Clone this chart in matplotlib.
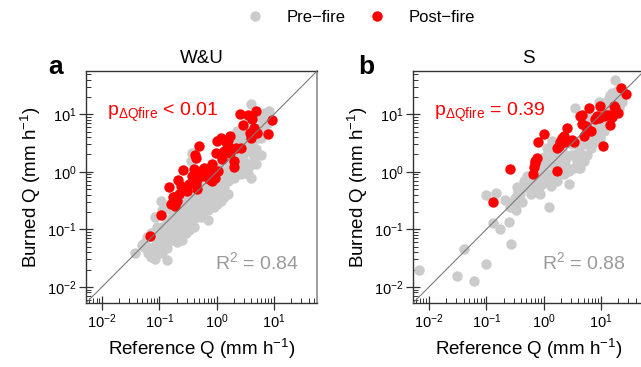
"""Pre- vs post-fire runoff: burned vs reference catchment Q, two panels."""
import numpy as np
import matplotlib
matplotlib.use("Agg")
import matplotlib.pyplot as plt
from matplotlib.lines import Line2D

plt.rcParams["font.family"] = ["Liberation Sans", "DejaVu Sans"]
plt.rcParams["mathtext.fontset"] = "custom"
plt.rcParams["mathtext.rm"] = "Liberation Sans"
plt.rcParams["mathtext.it"] = "Liberation Sans:italic"
plt.rcParams["mathtext.bf"] = "Liberation Sans:bold"

# values, stored as log10(Q, mm h-1)
# panel a (W&U) -- pre-fire
a_pre_ref = [
    -1.43, -1.31, -1.26, -1.20, -1.15, -1.09, -1.04, -0.98, -0.95, -0.92, -0.87, -0.86,
    -0.83, -0.80, -0.77, -0.75, -0.72, -0.69, -0.66, -0.63, -0.60, -0.57, -0.54, -0.51,
    -0.48, -0.45, -0.43, -0.40, -0.37, -0.34, -0.31, -0.28, -0.25, -0.22, -0.19, -0.16,
    -0.13, -0.10, -0.08, -0.05, -0.02, 0.01, 0.04, 0.07, 0.10, 0.13, 0.16, 0.19, 0.22,
    0.24, 0.27, 0.30, 0.33, 0.36, 0.39, 0.42, 0.45, 0.48, 0.51, 0.54, 0.56, 0.59, 0.62,
    0.65, 0.68, 0.71, 0.74, 0.77, 0.80, 0.83, 0.89, 0.91, 0.59, -0.43, -0.45, -0.98,
    -0.92, -0.95, -1.07, -1.15, -1.21, -1.27, -0.80, -0.75, -1.04, -1.09, -0.86, -0.63,
    -0.57, -0.51, -0.34, -0.28, -0.16, -0.05, 0.01, 0.07, 0.13, 0.19, -0.10, -0.05,
    0.36, 0.42, 0.48, 0.54, 0.45, 0.30, 0.19, 0.24, 0.62, 0.68, 0.77, 0.36, 0.30, 0.24,
    0.51, 0.56, 0.71, 0.77, 0.83, 0.89, -0.22, -0.16, -0.34, -0.43, -0.72, -0.66, -0.60,
    -0.54, -0.48, -0.69, -0.80, -0.89, -0.77, -0.60, -0.54, -0.72, -0.86, -0.92, -1.01,
    -1.09, -1.01, -0.16, 0.04, 0.22, 0.13, -0.05, 0.01, 0.07, -0.22, -0.25, -0.40, -0.45,
    -0.63, -0.69, -0.75, -0.28, -0.34, -0.51, -0.43, -1.21, -1.07, -0.95,
]
a_pre_burn = [
    -1.41, -1.28, -1.24, -1.42, -1.48, -1.30, -1.22, -1.07, -0.96, -1.19, -1.53, -1.33,
    -1.02, -0.90, -0.79, -1.13, -0.73, -0.96, -0.84, -0.70, -1.05, -0.79, -0.61, -0.96,
    -0.67, -0.56, -0.84, -0.50, -0.73, -0.61, -0.44, -0.59, -0.39, -0.50, -0.27, -0.84,
    -0.36, -0.16, -0.44, -0.27, -0.36, -0.07, -0.21, -0.10, -0.39, -0.44, 0.02, -0.16, 0.13,
    -0.04, 0.25, 0.07, 0.19, 0.36, 0.48, 0.59, 0.30, 0.19, 0.53, 0.07, 0.36, -0.10, 0.48,
    0.25, 0.39, 0.59, 0.76, 0.59, 0.82, 0.71, 0.68, 1.05, 1.17, 0.33, 0.19, -0.50,
    -0.61, -0.67, -0.79, -1.07, -1.13, -1.30, -0.67, -0.61, -0.96, -1.13, -0.84, -0.50,
    -0.39, -0.50, -0.79, -0.79, -0.67, -0.61, -0.56, -0.50, -0.27, -0.39, -0.56, -0.21,
    0.02, -0.04, 0.02, -0.04, 0.07, -0.10, 0.19, 0.13, 0.13, 0.13, 0.30, 0.71, 0.59, 0.48,
    0.71, 0.91, 0.97, 0.94, 1.02, 0.85, -0.33, -0.44, -0.39, -0.39, -0.90, -1.07, -1.19,
    -1.07, -1.02, -1.22, -1.19, -1.07, -0.96, -0.79, -0.84, -1.05, -1.13, -1.02, -1.13,
    -1.42, -1.30, -0.04, 0.07, -0.04, -0.10, -0.44, -0.27, -0.33, -0.61, -0.73, -0.96, -0.73,
    -0.96, -0.79, -0.73, -0.27, -0.21, -0.73, -0.61, -1.30, -1.51, -1.42,
]
# panel a (W&U) -- post-fire
a_post_ref = [
    -1.17, -0.97, -0.84, -0.77, -0.80, -0.75, -0.69, -0.72, -0.66, -0.68, -0.58, -0.51,
    -0.48, -0.43, -0.40, -0.37, -0.34, -0.33, -0.38, -0.36, -0.31, -0.28, -0.22, -0.16,
    -0.13, -0.08, -0.02, 0.01, 0.02, 0.07, 0.10, 0.13, 0.16, 0.19, 0.23, 0.24, 0.30,
    0.31, 0.33, 0.42, 0.40, 0.45, 0.55, 0.62, 0.68, 0.65, 0.58, 0.59, 0.71, 0.90, 0.97,
    -0.08, -0.03, -0.63, -0.13, -0.22, 0.19,
]
a_post_burn = [
    -1.12, -0.75, -0.26, -0.43, -0.56, -0.44, -0.50, -0.59, -0.39, -0.14, 0.03, -0.33,
    -0.21, -0.07, 0.05, -0.21, -0.30, -0.10, 0.30, 0.24, 0.45, 0.02, 0.07, -0.07,
    -0.13, 0.13, 0.33, 0.53, 0.02, 0.59, 0.22, 0.36, 0.51, 0.56, 0.62, 0.33, 0.19,
    0.09, 0.42, 0.42, 1.01, 0.82, 0.98, 0.91, 1.06, 0.76, 0.68, 0.59, 0.68, 0.65, 0.90,
    -0.16, -0.10, -0.24, 0.02, -0.07, 0.45,
]

# panel b (S) -- pre-fire
b_pre_ref = [
    -2.18, -1.51, -1.22, -1.39, -1.00, -0.57, -1.01, -0.84, -0.89, -0.77, -0.61, -0.67,
    -0.50, -0.48, -0.47, -0.38, -0.35, -0.29, -0.23, -0.20, -0.17, -0.15, -0.09, -0.06,
    -0.12, -0.03, 0.00, 0.06, 0.09, 0.12, 0.15, 0.17, 0.20, 0.23, 0.26, 0.29, 0.32, 0.35,
    0.38, 0.41, 0.44, 0.47, 0.50, 0.52, 0.55, 0.58, 0.61, 0.64, 0.67, 0.70, 0.73, 0.76,
    0.79, 0.82, 0.84, 0.87, 0.90, 0.93, 0.96, 0.99, 1.02, 1.05, 1.08, 1.11, 1.14, 1.16,
    1.19, 1.25, 1.28, 1.05, 1.11, 0.99, 0.93, 0.82, 0.70, 0.58, 0.47, 0.35, 0.23, 0.17,
    0.15, 0.06, 0.00, -0.05, -0.12, -0.17, -0.24, -0.29, -0.32, -0.41, -0.44, -0.52,
    -0.58, 0.12, 0.03, -0.03, 0.44, 0.52, 0.61, 0.76, 0.84, 0.90, 1.16, 1.22, 1.31, 1.37,
    1.40, 1.31, 1.05, 0.96, 0.76, 0.70,
]
b_pre_burn = [
    -1.70, -1.81, -1.89, -1.34, -1.60, -1.26, -0.41, -0.37, -0.89, -0.99, -0.87, -0.49,
    -0.45, -0.66, -0.27, -0.53, -0.16, -0.07, -0.39, -0.30, -0.21, -0.16, -0.27, -0.39,
    -0.36, -0.04, 0.07, 0.19, -0.61, -0.04, -0.16, 0.13, 0.25, -0.16, 0.19, 0.07, 0.36, -0.04,
    0.19, 0.07, -0.21, 0.30, 0.48, 0.30, 1.11, 0.19, 0.36, 0.07, 0.30, 0.48, 0.71, 0.59,
    0.76, 0.59, 0.88, 0.65, 0.79, 0.76, 0.74, 0.88, 1.05, 1.17, 1.22, 1.11, 1.28, 1.34,
    1.37, 1.60, 1.40, 0.71, 0.79, 0.59, 0.53, 0.42, 0.19, 0.48, 0.53, 0.30, 0.36, 0.30,
    0.53, 0.42, 0.25, 0.13, 0.02, -0.04, -0.18, -0.16, -0.27, -0.39, -0.36, -0.53,
    -0.61, -0.24, -0.13, -0.21, 0.02, 0.07, 0.07, 0.30, 0.48, 0.94, 1.17, 1.22, 1.28, 1.22,
    1.37, 1.11, 1.08, 1.22, 0.99, 0.94,
]
# panel b (S) -- post-fire
b_post_ref = [
    -0.89, -0.58, -0.19, -0.17, -0.16, -0.15, -0.12, -0.10, 0.01, 0.23, 0.23, 0.26, 0.29,
    0.32, 0.35, 0.38, 0.41, 0.50, 0.52, 0.66, 0.67, 0.70, 0.73, 0.76, 0.79, 0.90, 0.93,
    0.96, 0.99, 1.03, 1.05, 1.08, 1.14, 1.16, 1.19, 1.22, 1.25, 1.29, 1.35, 1.43, 0.64, 0.82,
]
b_post_burn = [
    -0.53, 0.05, -0.04, 0.09, 0.19, 0.16, 0.24, 0.51, 0.65, 0.02, 0.41, 0.45, 0.51,
    0.59, 0.62, 0.52, 0.76, 0.56, 0.52, 0.83, 0.99, 0.62, 0.79, 0.72, 1.11, 0.91, 0.97,
    0.94, 1.15, 0.45, 0.97, 0.99, 0.99, 0.82, 0.95, 1.14, 1.11, 1.02, 1.45, 1.35, 0.97, 0.71,
]

panels = [
    ("a", "W&U", a_pre_ref, a_pre_burn, a_post_ref, a_post_burn, "< 0.01", "0.84"),
    ("b", "S", b_pre_ref, b_pre_burn, b_post_ref, b_post_burn, "= 0.39", "0.88"),
]

GREY = "#cbcbcb"
RED = "#ff0000"
LIMS = (10 ** -2.28, 10 ** 1.75)


def draw_panel(ax, title, pre_x, pre_y, post_x, post_y, p_text, r2):
    ax.scatter(10 ** np.array(pre_x), 10 ** np.array(pre_y), s=56, color=GREY, linewidths=0, zorder=2)
    ax.scatter(10 ** np.array(post_x), 10 ** np.array(post_y), s=56, color=RED, linewidths=0, zorder=3)
    ax.plot(LIMS, LIMS, color="#7a7a7a", linewidth=0.8, zorder=4)
    ax.set_xscale("log")
    ax.set_yscale("log")
    ax.set_xlim(LIMS)
    ax.set_ylim(LIMS)
    ax.set_xticks([1e-2, 1e-1, 1, 10])
    ax.set_yticks([1e-2, 1e-1, 1, 10])
    ax.tick_params(which="major", direction="inout", length=10, width=0.9, color="#333333",
                   labelsize=10.5, pad=2)
    ax.tick_params(which="minor", direction="in", length=3.5, width=0.7, color="#333333")
    for side in ("left", "bottom", "top"):
        ax.spines[side].set_color("#333333")
        ax.spines[side].set_linewidth(1.0)
    ax.spines["right"].set_color("#8a8a8a")
    ax.spines["right"].set_linewidth(1.2)
    ax.set_title(title, fontsize=13.5, pad=6)
    ax.set_xlabel("Reference Q (mm h$^{-1}$)", fontsize=13.5, labelpad=4)
    ax.set_ylabel("Burned Q (mm h$^{-1}$)", fontsize=13.5, labelpad=3)
    ax.text(0.09, 0.82, r"p$_{\Delta\mathrm{Qfire}}$ " + p_text, transform=ax.transAxes,
            color=RED, fontsize=14, ha="left", va="center")
    ax.text(0.92, 0.175, "R$^{2}$ = " + r2, transform=ax.transAxes,
            color="#9a9a9a", fontsize=14, ha="right", va="center")


fig = plt.figure(figsize=(6.41, 3.67), dpi=100)
lefts = [0.1342, 0.6443]
label_x = [0.086, 0.571]
for (letter, title, px, py, qx, qy, p_text, r2), left, lx in zip(panels, lefts, label_x):
    ax = fig.add_axes([left, 0.1744, 0.3604, 0.632])
    draw_panel(ax, title, px, py, qx, qy, p_text, r2)
    fig.text(lx, 0.817, letter, fontsize=19, fontweight="bold", ha="center", va="center")

handles = [
    Line2D([], [], marker="o", linestyle="none", markersize=7.5, markerfacecolor=GREY, markeredgewidth=0),
    Line2D([], [], marker="o", linestyle="none", markersize=7.5, markerfacecolor=RED, markeredgewidth=0),
]
fig.legend(handles, ["Pre\u2212fire", "Post\u2212fire"], loc="center", bbox_to_anchor=(0.556, 0.952),
           ncol=2, frameon=False, fontsize=12, handletextpad=0.9, columnspacing=0.9)

fig.savefig("out.png", dpi=100)
